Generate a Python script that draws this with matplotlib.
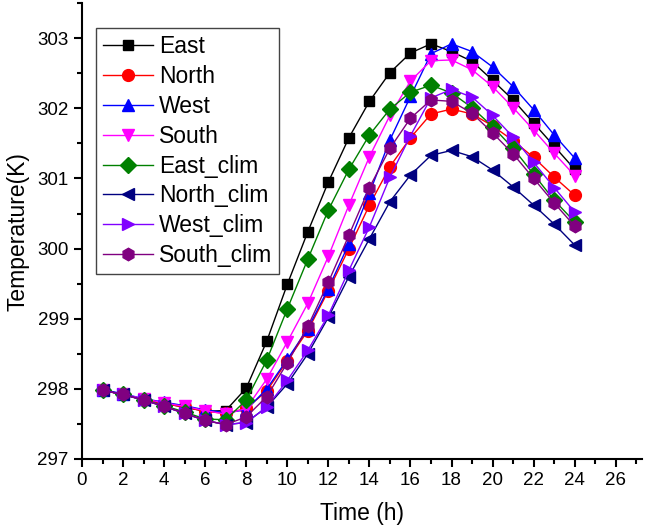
import matplotlib
matplotlib.use("Agg")
import matplotlib.pyplot as plt
from matplotlib.ticker import MultipleLocator

plt.rcParams['font.family'] = ['Liberation Sans', 'DejaVu Sans']

hours = list(range(1, 25))

east = [297.98, 297.92, 297.85, 297.79, 297.74, 297.68, 297.69, 298.01, 298.68, 299.49, 300.24, 300.95,
        301.58, 302.10, 302.51, 302.79, 302.92, 302.81, 302.67, 302.40, 302.12, 301.79, 301.46, 301.13]
north = [297.98, 297.92, 297.85, 297.79, 297.74, 297.68, 297.65, 297.72, 297.97, 298.40, 298.83, 299.40,
         300.00, 300.62, 301.17, 301.58, 301.92, 301.99, 301.92, 301.75, 301.54, 301.30, 301.02, 300.76]
west = [297.99, 297.93, 297.86, 297.81, 297.76, 297.70, 297.66, 297.70, 298.00, 298.42, 298.86, 299.43,
        300.07, 300.79, 301.55, 302.17, 302.78, 302.92, 302.81, 302.59, 302.31, 301.98, 301.62, 301.29]
south = [297.98, 297.92, 297.86, 297.80, 297.75, 297.69, 297.64, 297.72, 298.14, 298.67, 299.22, 299.89,
         300.62, 301.31, 301.90, 302.39, 302.68, 302.69, 302.55, 302.31, 302.01, 301.69, 301.36, 301.04]
east_clim = [297.98, 297.92, 297.84, 297.76, 297.67, 297.57, 297.56, 297.84, 298.41, 299.14, 299.85, 300.55,
             301.13, 301.62, 301.99, 302.23, 302.33, 302.22, 302.01, 301.74, 301.43, 301.06, 300.69, 300.38]
north_clim = [297.98, 297.92, 297.84, 297.75, 297.65, 297.55, 297.49, 297.52, 297.74, 298.07, 298.50, 299.02,
              299.60, 300.14, 300.67, 301.05, 301.33, 301.40, 301.31, 301.12, 300.88, 300.62, 300.35, 300.05]
west_clim = [297.98, 297.92, 297.84, 297.75, 297.65, 297.55, 297.49, 297.52, 297.74, 298.12, 298.55, 299.05,
             299.69, 300.31, 301.02, 301.61, 302.15, 302.27, 302.16, 301.90, 301.59, 301.23, 300.87, 300.52]
south_clim = [297.98, 297.92, 297.84, 297.75, 297.65, 297.55, 297.49, 297.60, 297.89, 298.37, 298.89, 299.52,
              300.19, 300.87, 301.43, 301.86, 302.12, 302.10, 301.93, 301.65, 301.35, 301.00, 300.65, 300.32]

labels = ['East', 'North', 'West', 'South', 'East_clim', 'North_clim', 'West_clim', 'South_clim']
series = [east, north, west, south, east_clim, north_clim, west_clim, south_clim]
colors = ['black', 'red', 'blue', 'magenta', 'green', 'navy', '#8000ff', 'purple']
markers = ['s', 'o', '^', 'v', 'D', '<', '>', 'h']
msizes = [7.5, 8.5, 9, 9, 8, 9, 9, 9]

fig = plt.figure(figsize=(6.48, 5.30), dpi=100)
ax = fig.add_axes([0.1265, 0.134, 0.865, 0.860])

for y, lab, c, m, ms in zip(series, labels, colors, markers, msizes):
    ax.plot(hours, y, color=c, marker=m, markersize=ms, lw=1, label=lab)

ax.set_xlim(0, 27.3)
ax.set_ylim(297, 303.5)
ax.xaxis.set_major_locator(MultipleLocator(2))
ax.xaxis.set_minor_locator(MultipleLocator(1))
ax.yaxis.set_major_locator(MultipleLocator(1))
ax.yaxis.set_minor_locator(MultipleLocator(0.5))
ax.spines['top'].set_visible(False)
ax.spines['right'].set_visible(False)
ax.spines['left'].set_linewidth(1.5)
ax.spines['bottom'].set_linewidth(1.5)
ax.tick_params(which='major', direction='out', length=6, width=1.5, labelsize=13.5)
ax.tick_params(which='minor', direction='out', length=3.5, width=1.5)

ax.set_xlabel('Time (h)', fontsize=16.5, labelpad=9)
ax.set_ylabel('Temperature(K)', fontsize=16.5, labelpad=6)

leg = ax.legend(loc='upper left', bbox_to_anchor=(0.025, 0.945), borderaxespad=0, fontsize=16.5,
                handlelength=2.2, labelspacing=0.3, handletextpad=0.25, borderpad=0.3,
                fancybox=False, framealpha=1)
leg.get_frame().set_edgecolor('#444444')
leg.get_frame().set_linewidth(1)

fig.savefig('out.png', dpi=100)
